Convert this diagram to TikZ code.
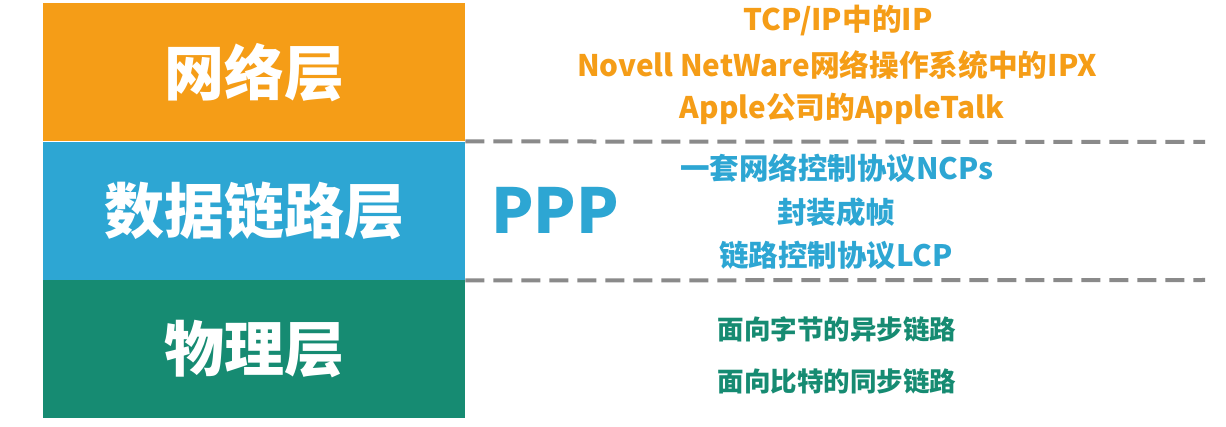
\documentclass[tikz,border=0pt]{standalone}
\usepackage{fontspec}
\setmainfont{Noto Sans CJK SC}
\definecolor{cOrange}{HTML}{F59D17}
\definecolor{cBlue}{HTML}{2DA6D3}
\definecolor{cGreen}{HTML}{168B72}
\definecolor{cDash}{HTML}{8A8A8A}
\begin{document}
\begin{tikzpicture}[x=1pt,y=-1pt,
  layer/.style={minimum width=422pt,minimum height=138pt,inner sep=0pt,anchor=north west,text=white,font=\bfseries\fontsize{60}{62}\selectfont},
  itemO/.style={text=cOrange,font=\bfseries\fontsize{29.7}{32}\selectfont,inner sep=0pt},
  itemB/.style={text=cBlue,font=\bfseries\fontsize{29.5}{32}\selectfont,inner sep=0pt},
  itemG/.style={text=cGreen,font=\bfseries\fontsize{26.5}{30}\selectfont,inner sep=0pt},
  sep/.style={draw=cDash,line width=4pt,dash pattern=on 19pt off 9pt}]
\useasboundingbox[fill=white] (0,0) rectangle (1226,427);
\node[layer,fill=cOrange] (net) at (43,3) {网络层};
\node[layer,fill=cBlue] (dl) at (43,142) {数据链路层};
\node[layer,fill=cGreen] (ph) at (43,280) {物理层};
\coordinate (e1) at (1205,142);
\coordinate (e2) at (1205,280);
\draw[sep] (net.south east) -- (e1);
\draw[sep] (dl.south east) -- (e2);
\node[text=cBlue,font=\bfseries\fontsize{62}{64}\selectfont,inner sep=0pt] (ppp) at (555,210) {PPP};
\node[itemO] (o1) at (838,21) {TCP/IP中的IP};
\node[itemO] (o2) at (837,65) {Novell NetWare网络操作系统中的IPX};
\node[itemO] (o3) at (842,109) {Apple公司的AppleTalk};
\node[itemB] (b1) at (837,168) {一套网络控制协议NCPs};
\node[itemB] (b2) at (836,212) {封装成帧};
\node[itemB] (b3) at (836,255) {链路控制协议LCP};
\node[itemG] (g1) at (837,329) {面向字节的异步链路};
\node[itemG] (g2) at (837,381) {面向比特的同步链路};
\end{tikzpicture}
\end{document}
